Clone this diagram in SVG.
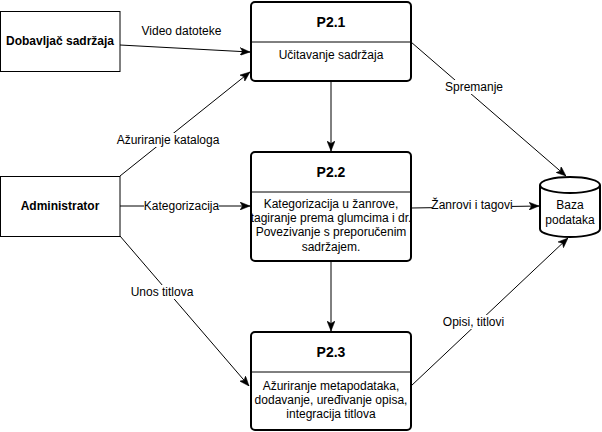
<svg xmlns="http://www.w3.org/2000/svg" width="602" height="432" viewBox="0 0 602 432">
  <style>
    text { font-family: "Liberation Sans", Arial, Helvetica, sans-serif; font-size: 12px; fill: #000; text-anchor: middle; }
    .bold { font-weight: bold; }
    .title { font-weight: bold; font-size: 14px; }
    .entity { fill: #fff; stroke: #000; stroke-width: 1; }
    .procfill { fill: #fff; stroke: none; }
    .proc { fill: none; stroke: #000; stroke-width: 2; }
    .div { stroke: #000; stroke-width: 1; }
    .db { fill: #fff; stroke: #000; stroke-width: 2; }
    .edge { fill: none; stroke: #000; stroke-width: 1; marker-end: url(#arrow); }
    .lblbg { fill: #fff; stroke: none; }
  </style>
  <defs>
    <marker id="arrow" viewBox="0 0 10 8" refX="10" refY="4" markerWidth="10" markerHeight="8" orient="auto" markerUnits="userSpaceOnUse">
      <path d="M0,0 L10,4 L0,8 L2.5,4 Z" fill="#000" stroke="#000" stroke-width="0.5"/>
    </marker>
  </defs>
  <rect width="602" height="432" fill="#fff"/>

  <g id="connectors">
    <line class="edge" x1="120" y1="45" x2="250" y2="52"/>
    <line class="edge" x1="120" y1="176" x2="250" y2="72"/>
    <line class="edge" x1="120" y1="206" x2="250" y2="206"/>
    <line class="edge" x1="120" y1="236" x2="249" y2="386"/>
    <line class="edge" x1="331" y1="81" x2="331" y2="151"/>
    <line class="edge" x1="331" y1="261" x2="331" y2="331"/>
    <line class="edge" x1="411" y1="42" x2="566" y2="176"/>
    <line class="edge" x1="411" y1="208" x2="539" y2="206"/>
    <line class="edge" x1="411" y1="386" x2="568" y2="238"/>

    <text x="181.5" y="35">Video datoteke</text>
    <rect class="lblbg" x="117" y="133" width="102" height="14"/>
    <text x="168" y="143.5">Ažuriranje kataloga</text>
    <rect class="lblbg" x="144" y="199" width="75" height="14"/>
    <text x="181.5" y="210">Kategorizacija</text>
    <rect class="lblbg" x="131" y="285" width="62" height="14"/>
    <text x="162" y="296">Unos titlova</text>
    <rect class="lblbg" x="445" y="80" width="58" height="14"/>
    <text x="474" y="91">Spremanje</text>
    <rect class="lblbg" x="432" y="198" width="80" height="14"/>
    <text x="472" y="209">Žanrovi i tagovi</text>
    <rect class="lblbg" x="443" y="315" width="61" height="14"/>
    <text x="473.5" y="326">Opisi, titlovi</text>
  </g>

  <g id="dobavljac">
    <rect class="entity" x="0.5" y="11.5" width="119.5" height="60"/>
    <text class="bold" x="60" y="45">Dobavljač sadržaja</text>
  </g>

  <g id="administrator">
    <rect class="entity" x="0.5" y="176.5" width="119.5" height="60"/>
    <text class="bold" x="60" y="210">Administrator</text>
  </g>

  <g id="p21">
    <rect class="procfill" x="251" y="2" width="160" height="79" rx="4"/>
    <text class="title" x="331" y="27">P2.1</text>
    <text x="331" y="59">Učitavanje sadržaja</text>
    <line class="div" x1="251" y1="42" x2="411" y2="42"/>
    <rect class="proc" x="251" y="2" width="160" height="79" rx="4"/>
  </g>

  <g id="p22">
    <rect class="procfill" x="251" y="152" width="160" height="109" rx="4"/>
    <text class="title" x="331" y="177">P2.2</text>
    <text x="331" y="207.5">Kategorizacija u žanrove,</text>
    <text x="331" y="221.9">tagiranje prema glumcima i dr.</text>
    <text x="331" y="236.3">Povezivanje s preporučenim</text>
    <text x="331" y="250.7">sadržajem.</text>
    <line class="div" x1="251" y1="192" x2="411" y2="192"/>
    <rect class="proc" x="251" y="152" width="160" height="109" rx="4"/>
  </g>

  <g id="p23">
    <rect class="procfill" x="251" y="332" width="160" height="98" rx="4"/>
    <text class="title" x="331" y="357">P2.3</text>
    <text x="331" y="389.5">Ažuriranje metapodataka,</text>
    <text x="331" y="403.9">dodavanje, uređivanje opisa,</text>
    <text x="331" y="418.3">integracija titlova</text>
    <line class="div" x1="251" y1="372" x2="411" y2="372"/>
    <rect class="proc" x="251" y="332" width="160" height="98" rx="4"/>
  </g>

  <g id="baza">
    <path class="db" d="M540,185 A30,8 0 0 1 600,185 L600,229 A30,8 0 0 1 540,229 Z"/>
    <path class="db" d="M540,185 A30,8 0 0 0 600,185" fill="none"/>
    <text x="570" y="209">Baza</text>
    <text x="570" y="224">podataka</text>
  </g>
</svg>
